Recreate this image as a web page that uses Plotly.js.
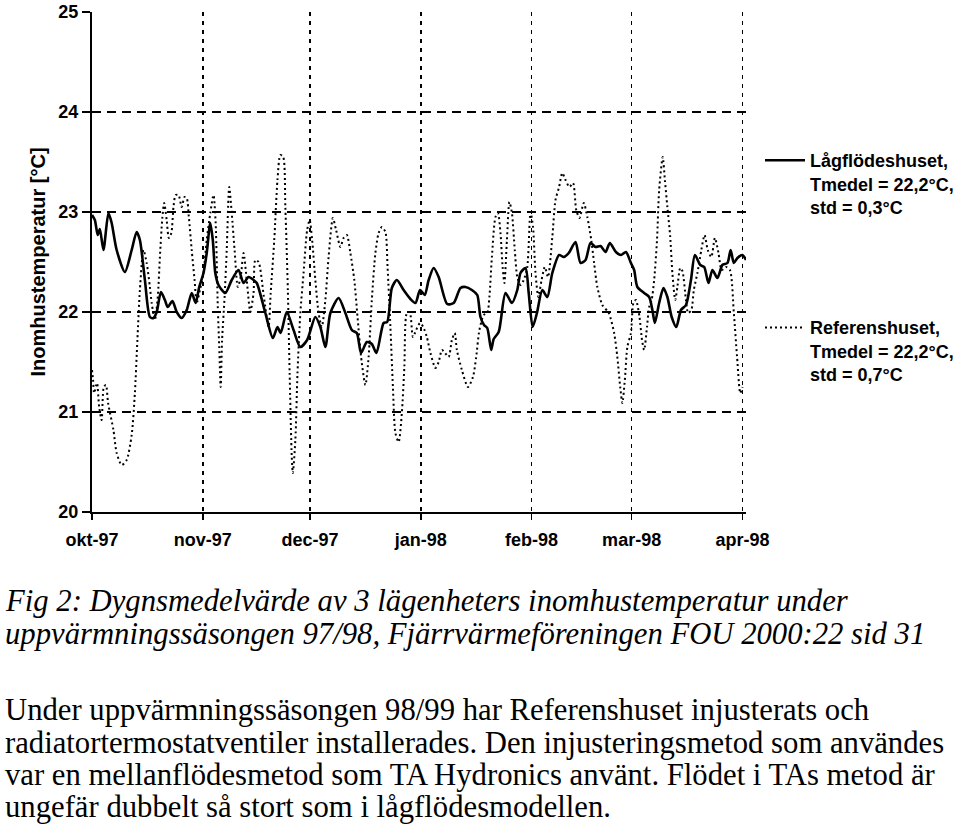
<!DOCTYPE html>
<html>
<head>
<meta charset="utf-8">
<script src="https://cdn.plot.ly/plotly-3.0.1.min.js"></script>
<style>
html,body{margin:0;padding:0;background:#fff;}
#chart{width:960px;height:832px;}
</style>
</head>
<body>
<div id="chart"></div>
<script>
// ---- data (days after 1997-10-01, temperature °C) ----
const startDate = '1997-10-01';

const lagDays = [0,0.8,1.6,2.2,3.2,4.6,5.5,6.9,9.2,11.1,12.5,13.4,14.8,16.2,17.2,18.1,19.3,20.4,21.2,22.5,23.7,25.1,26.5,27.9,29,30,31.2,32.1,33.1,33.8,34.5,35.4,37.3,39.1,41,42.4,43.8,45.2,46.1,48.5,50.6,51.9,52.8,54.5,56.4,58.3,60.2,62.5,63.9,65.3,66.7,69,70.9,72.7,74.1,75.3,76.9,78.3,79.6,81.6,82.6,83.9,85.3,87.2,89.1,90.5,91.8,93.1,94.2,95.6,97,99.4,101.2,103.1,104.5,106.3,107.8,108.7,109.7,110.6,111.7,112.4,113.8,115.7,117.5,119,119.9,121.3,122.2,123.3,124.5,126,127.4,128.8,130.7,132,133.4,135.3,136.7,138.1,139.5,140.9,142.3,143.7,144.9,146.6,148,149.4,150.8,151.7,152.6,154.5,155.9,156.8,157.5,158.7,159.9,161,162.2,163.5,164.8,166.2,167.6,168.7,170.2,171.3,172.5,173.6,175,176.4,177.8,178.7,179.6,180.6,182,183];
const lagTemp = [22.97,22.92,22.77,22.83,22.62,22.99,22.89,22.62,22.40,22.62,22.80,22.72,22.32,21.95,21.94,22.0,22.2,22.12,22.05,22.11,22.0,21.94,22.02,22.19,22.09,22.25,22.39,22.59,22.89,22.72,22.39,22.27,22.19,22.32,22.42,22.29,22.35,22.32,22.29,21.99,21.74,21.85,21.79,22.0,21.82,21.65,21.72,21.95,21.85,21.65,21.99,22.14,21.99,21.82,21.79,21.59,21.70,21.68,21.59,21.89,21.90,22.24,22.32,22.22,22.13,22.09,22.22,22.17,22.32,22.44,22.35,22.08,22.09,22.24,22.25,22.22,22.17,21.95,21.87,21.84,21.62,21.73,21.80,22.19,22.09,22.22,22.39,22.44,22.19,21.85,21.99,22.22,22.15,22.39,22.57,22.55,22.59,22.70,22.49,22.52,22.69,22.65,22.66,22.60,22.69,22.60,22.57,22.60,22.49,22.42,22.25,22.19,22.15,22.02,21.89,22.09,22.24,22.15,21.95,21.85,22.02,22.07,22.32,22.57,22.47,22.45,22.29,22.42,22.34,22.47,22.49,22.62,22.49,22.54,22.57,22.52];

const refDays = [0,0.3,0.6,1.4,2,2.7,3.3,3.9,4.5,6,6.9,8.3,9.7,11.1,12,12.7,13.4,14.4,15.3,16.2,16.7,17.6,18.4,19,19.7,20.2,20.9,21.5,22.2,22.8,23.4,24.2,25.1,25.9,26.5,27.1,27.9,28.7,29.3,30.2,31.2,32.1,33.1,34,34.6,35.2,35.6,36,36.4,37.1,37.7,38.4,39.1,39.9,40.8,41.6,42.4,43.3,44.3,45.2,45.7,46.6,48.1,49.4,50,51,51.9,52.7,53.5,54.1,54.8,55.3,55.9,56.2,56.9,57.5,58.3,59.2,60.2,60.9,61.6,62.5,63.4,64.3,65.3,66.2,67.4,68.3,69.5,70.4,71.3,72.3,73.4,74.3,75.3,76.5,77.4,78.3,79.3,80.2,81.1,82.1,82.7,83.5,84.2,84.9,85.8,86.7,87.4,88.1,88.9,89.8,90.7,91.8,92.7,93.7,94.7,96.1,97,97.9,98.8,99.8,100.7,101.5,102.1,103.5,105.2,106.6,107.5,108.4,109.6,110.6,111.2,111.9,112.9,113.6,114.3,114.9,115.4,116.1,116.8,117.5,118.3,119,119.9,120.8,121.8,122.7,123.4,124.1,124.9,125.8,126.7,127.6,128.8,129.7,130.7,131.6,132.5,133.6,134.6,135.5,136.4,137.6,138.6,139.7,140.5,141.4,142.8,144.6,146.1,147,147.8,148.4,149.1,149.8,150.8,151.5,152.2,153.2,153.9,154.5,155.3,155.9,156.6,157.3,158.1,158.7,159.7,160.3,161,161.8,162.4,163.2,163.8,164.6,165.2,166.2,166.8,167.7,168.4,169.4,170.5,171.4,172.3,173.3,174.3,175.3,176.2,177.4,178.5,179.6,180.5,181.4,182];
const refTemp = [21.42,21.32,21.19,21.29,21.05,20.92,21.25,21.27,21.09,20.82,20.59,20.47,20.52,20.77,21.19,21.72,22.22,22.62,22.49,22.25,22.09,21.92,22.15,22.55,22.95,23.09,22.92,22.74,22.79,23.05,23.17,23.17,23.05,23.15,23.14,22.95,22.62,22.32,22.09,22.22,22.39,22.72,22.99,23.17,22.89,22.05,21.65,21.25,21.72,22.15,22.62,23.25,22.99,22.62,22.25,22.35,22.59,22.32,22.0,22.19,22.52,22.5,22.15,21.85,22.19,22.72,23.32,23.57,23.55,23.05,22.22,21.39,20.55,20.39,20.72,21.39,21.99,22.39,22.82,22.92,22.72,22.32,21.99,21.85,22.12,22.55,22.94,22.82,22.65,22.74,22.77,22.59,22.32,21.95,21.55,21.27,21.55,22.12,22.59,22.79,22.85,22.80,22.45,21.85,21.25,20.79,20.70,20.99,21.45,21.99,22.0,21.75,21.82,21.89,21.85,21.75,21.59,21.44,21.50,21.62,21.59,21.55,21.72,21.79,21.62,21.42,21.25,21.35,21.55,21.82,21.97,21.99,22.15,22.55,22.95,22.99,22.79,22.45,22.29,22.72,23.10,22.99,22.62,22.35,22.27,22.32,22.45,23.00,22.85,22.39,22.15,22.32,22.45,22.35,22.75,23.12,23.25,23.39,23.32,23.25,23.29,23.02,22.94,23.09,22.95,22.72,22.49,22.25,22.07,21.99,21.79,21.55,21.25,21.09,21.32,21.65,21.79,22.09,22.12,21.95,21.72,21.62,21.85,22.05,22.12,22.32,22.72,23.22,23.55,23.32,23.05,22.75,22.39,22.12,22.25,22.44,22.41,22.12,21.99,22.02,22.22,22.39,22.62,22.77,22.62,22.55,22.74,22.59,22.42,22.45,22.42,21.99,21.55,21.19,21.25];

const monthTicks = ['1997-10-01','1997-11-01','1997-12-01','1998-01-01','1998-02-01','1998-03-01','1998-04-01'];
const monthLabels = ['okt-97','nov-97','dec-97','jan-98','feb-98','mar-98','apr-98'];
const yTicks = [20,21,22,23,24,25];

const lagName = 'Lågflödeshuset,<br>Tmedel = 22,2°C,<br>std = 0,3°C';
const refName = 'Referenshuset,<br>Tmedel = 22,2°C,<br>std = 0,7°C';
const yTitle = 'Inomhustemperatur [°C]';

const captionItalic = [
  'Fig 2: Dygnsmedelvärde av 3 lägenheters inomhustemperatur under',
  'uppvärmningssäsongen 97/98, Fjärrvärmeföreningen FOU 2000:22 sid 31'
];
const captionBody = [
  'Under uppvärmningssäsongen 98/99 har Referenshuset injusterats och',
  'radiatortermostatventiler installerades. Den injusteringsmetod som användes',
  'var en mellanflödesmetod som TA Hydronics använt. Flödet i TAs metod är',
  'ungefär dubbelt så stort som i lågflödesmodellen.'
];

// ---- build ----
const t0 = Date.parse(startDate + 'T00:00:00Z');
function toDate(d){
  const dt = new Date(t0 + d*86400000);
  return dt.toISOString().replace('T',' ').replace('Z','').slice(0,19);
}

const sans = 'Liberation Sans, Arial, sans-serif';
const serif = 'Liberation Serif, Times New Roman, serif';

const traces = [
  {x: lagDays.map(toDate), y: lagTemp, type:'scatter', mode:'lines', name: lagName,
   legendgroup:'a', line:{color:'#000', width:2.6, shape:'spline', smoothing:0.7}},
  {x: refDays.map(toDate), y: refTemp, type:'scatter', mode:'lines', name: refName,
   legendgroup:'b', line:{color:'#000', width:2, dash:'2px,3px', shape:'spline', smoothing:0.7}}
];

const PL = 92, PR = 214, PT = 12, PB = 320;
const plotW = 960 - PL - PR, plotH = 832 - PT - PB;
function px2x(px){ return (px - PL)/plotW; }
function py2y(py){ return (832 - PB - py)/plotH; }

const annotations = [];
const italY = [601, 634];
captionItalic.forEach((t,i)=>annotations.push({
  text:t, xref:'paper', yref:'paper', x:px2x(3), y:py2y(italY[i]), xanchor:'left', yanchor:'middle',
  showarrow:false, align:'left', font:{family:serif, size:30.7, color:'#000', style:'italic'}
}));
const bodyY = [710, 743, 775, 807];
captionBody.forEach((t,i)=>annotations.push({
  text:t, xref:'paper', yref:'paper', x:px2x(3), y:py2y(bodyY[i]), xanchor:'left', yanchor:'middle',
  showarrow:false, align:'left', font:{family:serif, size:30.7, color:'#000'}
}));

const layout = {
  width:960, height:832,
  margin:{l:PL, r:PR, t:PT, b:PB, pad:0, autoexpand:false},
  paper_bgcolor:'#fff', plot_bgcolor:'#fff',
  showlegend:true,
  legend:{x:px2x(760), xanchor:'left', y:py2y(142), yanchor:'top', valign:'top',
    tracegroupgap:94, itemwidth:40, bgcolor:'rgba(0,0,0,0)',
    font:{family:sans, size:18, color:'#000', weight:'bold'}},
  xaxis:{type:'date', range:[toDate(0), toDate(183)],
    tickvals:monthTicks, ticktext:monthLabels, showgrid:true, gridcolor:'#000', gridwidth:1.5, griddash:'4px,5px',
    showline:true, linecolor:'#000', linewidth:2, ticks:'outside', ticklen:6, tickwidth:1.5, tickcolor:'#000',
    ticklabelstandoff:4, zeroline:false, fixedrange:true,
    tickfont:{family:sans, size:18, color:'#000', weight:'bold'}},
  yaxis:{range:[20,25], tickvals:yTicks, showgrid:true, gridcolor:'#000', gridwidth:1.5, griddash:'9px,6px',
    showline:true, linecolor:'#000', linewidth:2, ticks:'outside', ticklen:8, tickwidth:1.5, tickcolor:'#000',
    zeroline:false, fixedrange:true,
    tickfont:{family:sans, size:18, color:'#000', weight:'bold'},
    title:{text:yTitle, standoff:7, font:{family:sans, size:20, color:'#000', weight:'bold'}}},
  annotations: annotations
};

Plotly.newPlot('chart', traces, layout, {displayModeBar:false, staticPlot:true});
</script>
</body>
</html>
